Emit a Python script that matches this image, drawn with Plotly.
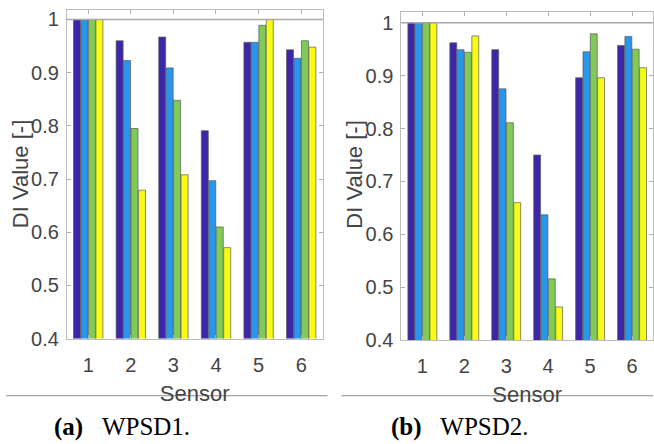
import plotly.graph_objects as go

sensors = [1, 2, 3, 4, 5, 6]
tick_vals = [0.4, 0.5, 0.6, 0.7, 0.8, 0.9, 1.0]
tick_text = ["0.4", "0.5", "0.6", "0.7", "0.8", "0.9", "1"]

# WPSD1 (left panel)
wpsd1_a = [1.0, 0.960, 0.967, 0.791, 0.957, 0.943]
wpsd1_b = [1.0, 0.923, 0.909, 0.697, 0.957, 0.927]
wpsd1_c = [1.0, 0.795, 0.848, 0.610, 0.989, 0.960]
wpsd1_d = [1.0, 0.679, 0.708, 0.571, 1.000, 0.948]

# WPSD2 (right panel)
wpsd2_a = [1.0, 0.962, 0.949, 0.750, 0.896, 0.957]
wpsd2_b = [1.0, 0.949, 0.875, 0.637, 0.945, 0.974]
wpsd2_c = [1.0, 0.944, 0.811, 0.516, 0.979, 0.950]
wpsd2_d = [1.0, 0.975, 0.660, 0.463, 0.896, 0.915]

colors = ["#3E26A8", "#2796EB", "#80CB58", "#F9FB15"]

W, H = 654, 444
fig = go.Figure()

for vals, col in zip([wpsd1_a, wpsd1_b, wpsd1_c, wpsd1_d], colors):
    fig.add_trace(go.Bar(x=sensors, y=vals, marker=dict(color=col, line=dict(color="rgba(90,90,90,0.7)", width=1)),
                         xaxis="x", yaxis="y", showlegend=False))
for vals, col in zip([wpsd2_a, wpsd2_b, wpsd2_c, wpsd2_d], colors):
    fig.add_trace(go.Bar(x=sensors, y=vals, marker=dict(color=col, line=dict(color="rgba(90,90,90,0.7)", width=1)),
                         xaxis="x2", yaxis="y2", showlegend=False))

tickfont = dict(family="Liberation Sans, Arial, sans-serif", size=20, color="#444444")
titlefont = dict(family="Liberation Sans, Arial, sans-serif", size=22, color="#444444")

def xaxis(domain, anchor):
    return dict(domain=domain, anchor=anchor, range=[0.5, 6.5], tickvals=sensors,
                ticks="inside", ticklen=4, tickcolor="#b0b0b0", showline=True, linecolor="#bdbdbd",
                linewidth=1, mirror="ticks", showgrid=False, zeroline=False, tickfont=tickfont,
                ticklabelstandoff=8,
                title=dict(text="Sensor", font=titlefont, standoff=10))

def yaxis(domain, anchor, top):
    return dict(domain=domain, anchor=anchor, range=[0.4, top], tickvals=tick_vals, ticktext=tick_text,
                ticks="inside", ticklen=4, tickcolor="#b0b0b0", showline=True, linecolor="#bdbdbd",
                linewidth=1, mirror="ticks", showgrid=False, zeroline=False, tickfont=tickfont,
                ticklabelstandoff=3)

fig.update_layout(
    width=W, height=H, margin=dict(l=0, r=0, t=0, b=0),
    paper_bgcolor="white", plot_bgcolor="white",
    barmode="group", bargap=0.3, bargroupgap=0.06,
    xaxis=xaxis([67 / W, 323 / W], "y"),
    yaxis=yaxis([1 - 347 / H, 1 - 9 / H], "x", 1.0183),
    xaxis2=xaxis([402 / W, 1.0], "y2"),
    yaxis2=yaxis([1 - 348.7 / H, 1 - 11.7 / H], "x2", 1.0195),
)

# y-axis titles
for xpx in [20, 355]:
    fig.add_annotation(xref="paper", yref="paper", x=xpx / W, y=1 - 178 / H, xanchor="center", yanchor="middle",
                       text="DI Value [-]", textangle=-90, showarrow=False, font=titlefont)

# reference line at 1
for xr, yr in [("x domain", "y"), ("x2 domain", "y2")]:
    fig.add_shape(type="line", xref=xr, yref=yr, x0=0, x1=1, y0=1, y1=1,
                  line=dict(color="#a8a8a8", width=1.5))

# caption rules
ycap = 1 - 405.7 / H
fig.add_shape(type="line", xref="paper", yref="paper", x0=6 / W, x1=328 / W, y0=ycap, y1=ycap,
              line=dict(color="#8c8c8c", width=1))
fig.add_shape(type="line", xref="paper", yref="paper", x0=342 / W, x1=1.0, y0=ycap, y1=ycap,
              line=dict(color="#8c8c8c", width=1))

capfont = dict(family="Liberation Serif, Times New Roman, serif", size=25, color="black")
fig.add_annotation(xref="paper", yref="paper", x=52 / W, y=1 - 438 / H, xanchor="left", yanchor="middle",
                   text="<b>(a)</b>\u00a0\u00a0\u00a0WPSD1.", showarrow=False, font=capfont)
fig.add_annotation(xref="paper", yref="paper", x=390 / W, y=1 - 438 / H, xanchor="left", yanchor="middle",
                   text="<b>(b)</b>\u00a0\u00a0\u00a0WPSD2.", showarrow=False, font=capfont)

fig.write_html("out.html")
